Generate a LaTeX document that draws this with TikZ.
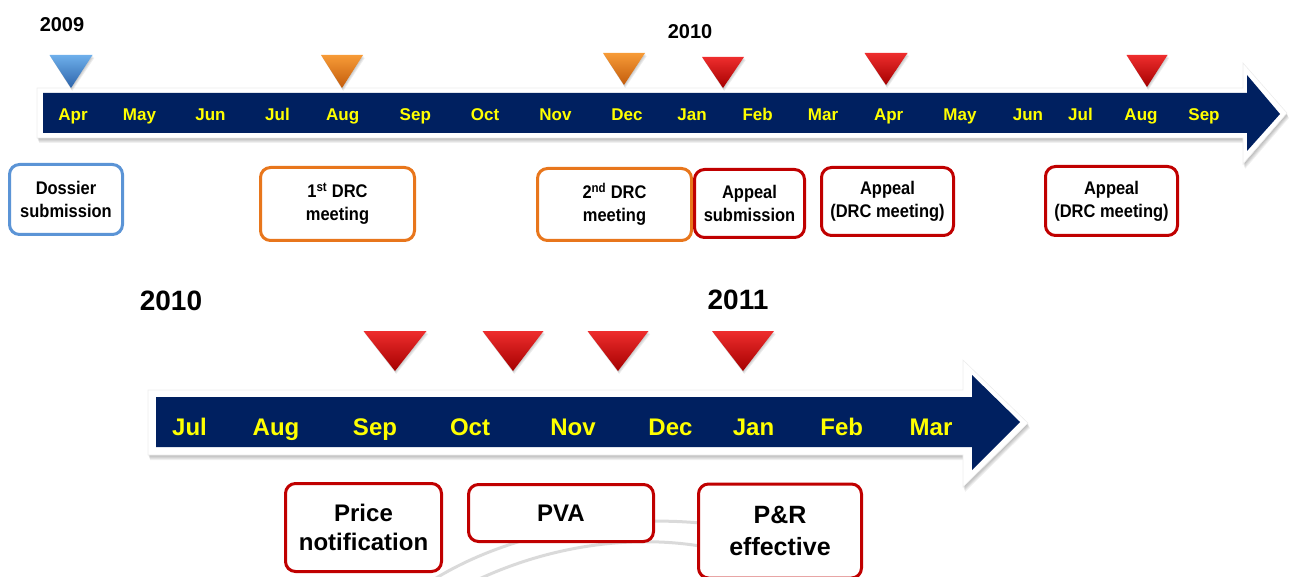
\documentclass[tikz,border=0pt]{standalone}
\usepackage{fontspec}
\setmainfont{Liberation Sans}
\newfontfamily\narrowsans[FakeStretch=0.9]{Liberation Sans}
\definecolor{navy}{RGB}{0,32,96}
\definecolor{mYellow}{RGB}{255,255,0}
\definecolor{evRed}{RGB}{192,0,0}
\definecolor{evOrange}{RGB}{232,118,28}
\definecolor{evBlue}{RGB}{91,148,214}
\definecolor{swoosh}{RGB}{218,218,218}
% triangle palettes: light / mid / dark
\definecolor{redL}{RGB}{238,45,45}\definecolor{redM}{RGB}{215,10,10}\definecolor{redD}{RGB}{165,0,0}
\definecolor{oraL}{RGB}{247,155,55}\definecolor{oraM}{RGB}{236,122,25}\definecolor{oraD}{RGB}{195,92,12}
\definecolor{bluL}{RGB}{110,175,235}\definecolor{bluM}{RGB}{75,140,210}\definecolor{bluD}{RGB}{45,100,170}
% marker: tip x, top y, tip y, half width, palette
\newcommand\marker[5]{%
  \foreach \d in {1,2,3}
    \fill[black,opacity=.07] ({#1-#4+\d*.6},{#2+\d}) -- ({#1+#4+\d*.6},{#2+\d}) -- ({#1+\d*.4},{#3+\d}) -- cycle;
  \shade[top color=#5L,middle color=#5M,bottom color=#5D]
    ({#1-#4},{#2}) -- ({#1+#4},{#2}) -- ({#1},{#3}) -- cycle;
}
% outlines of the two timeline arrows
\newcommand\toprim{(37,88) -- (1243,88) -- (1243,63) -- (1287,113) -- (1243,164) -- (1243,138) -- (37,138) -- cycle}
\newcommand\botrim{(148,390) -- (963,390) -- (963,360) -- (1028,423) -- (963,487) -- (963,455) -- (148,455) -- cycle}
\begin{document}
\begin{tikzpicture}[x=1pt,y=-1pt,
  month/.style={text=mYellow,anchor=base,font=\bfseries\fontsize{17}{20}\selectfont},
  bmonth/.style={text=mYellow,anchor=base,font=\bfseries\fontsize{24}{28}\selectfont},
  year/.style={anchor=base,font=\bfseries\fontsize{20}{24}\selectfont},
  byear/.style={anchor=base,font=\bfseries\fontsize{28}{32}\selectfont},
  evbox/.style={draw=#1,line width=3pt,rounded corners=10pt,fill=white,
    align=center,inner sep=0pt,font=\narrowsans\bfseries\fontsize{18.3}{23}\selectfont},
  bigbox/.style={evbox=#1,font=\bfseries\fontsize{24}{29}\selectfont},
  band/.style={fill=navy},
  rim/.style={fill=white,draw=black!7,line width=.6pt},
  shadow/.style={fill=black,opacity=.06}]
\useasboundingbox (0,0) rectangle (1290,577);

% decorative swooshes behind the lower boxes
\draw[swoosh,line width=3pt] (433,580) .. controls (500,538) and (600,514) .. (700,523);
\draw[swoosh,line width=3pt] (477,580) .. controls (545,548) and (625,534) .. (700,546);

% upper timeline arrow
\foreach \d in {1,...,5} \fill[shadow,shift={(0.4*\d,\d)}] \toprim;
\path[rim] \toprim;
\fill[band] (43,93) -- (1247,93) -- (1247,75) -- (1280,114) -- (1247,151) -- (1247,133) -- (43,133) -- cycle;

% lower timeline arrow
\foreach \d in {1,...,5} \fill[shadow,shift={(0.4*\d,\d)}] \botrim;
\path[rim] \botrim;
\fill[band] (156,397) -- (972,397) -- (972,375) -- (1020,422) -- (972,470) -- (972,447) -- (156,447) -- cycle;

% years
\node[year] (y2009) at (62,32) {2009};
\node[year] (y2010a) at (690,39) {2010};
\node[byear] (y2010b) at (171,310) {2010};
\node[byear] (y2011) at (738,309) {2011};

% upper months
\node[month] (m1)  at (73,121)  {Apr};
\node[month] (m2)  at (139.5,121) {May};
\node[month] (m3)  at (210.5,121) {Jun};
\node[month] (m4)  at (277.5,121) {Jul};
\node[month] (m5)  at (342.7,121) {Aug};
\node[month] (m6)  at (415.3,121) {Sep};
\node[month] (m7)  at (485,121) {Oct};
\node[month] (m8)  at (555.5,121) {Nov};
\node[month] (m9)  at (627,121) {Dec};
\node[month] (m10) at (692,121) {Jan};
\node[month] (m11) at (757.7,121) {Feb};
\node[month] (m12) at (823,121) {Mar};
\node[month] (m13) at (888.7,121) {Apr};
\node[month] (m14) at (960,121) {May};
\node[month] (m15) at (1028,121) {Jun};
\node[month] (m16) at (1080.5,121) {Jul};
\node[month] (m17) at (1141,121) {Aug};
\node[month] (m18) at (1204,121) {Sep};

% lower months
\node[bmonth] (n1) at (189.5,435) {Jul};
\node[bmonth] (n2) at (276,435) {Aug};
\node[bmonth] (n3) at (375,435) {Sep};
\node[bmonth] (n4) at (470,435) {Oct};
\node[bmonth] (n5) at (573,435) {Nov};
\node[bmonth] (n6) at (670.5,435) {Dec};
\node[bmonth] (n7) at (753.5,435) {Jan};
\node[bmonth] (n8) at (841.7,435) {Feb};
\node[bmonth] (n9) at (931,435) {Mar};

% milestone markers, upper row
\marker{71}{55}{88}{21.5}{blu}
\marker{342}{55}{88}{21}{ora}
\marker{624}{53}{85}{21}{ora}
\marker{723}{57}{88}{21}{red}
\marker{886}{53}{85}{21.5}{red}
\marker{1147}{55}{87}{20.5}{red}

% milestone markers, lower row
\marker{395}{331}{371}{31.5}{red}
\marker{513}{331}{371}{30.5}{red}
\marker{618}{331}{371}{30.5}{red}
\marker{743}{331}{371}{31}{red}

% upper events
\node[evbox=evBlue,minimum width=113pt,minimum height=70pt] (dossier) at (66,199.5) {Dossier\\submission};
\node[evbox=evOrange,minimum width=154pt,minimum height=73pt] (drc1) at (337.5,204) {1\textsuperscript{st} DRC\\meeting};
\node[evbox=evOrange,minimum width=154pt,minimum height=72pt] (drc2) at (614.5,204.5) {2\textsuperscript{nd} DRC\\meeting};
\node[evbox=evRed,minimum width=110pt,minimum height=68pt] (appsub) at (749.5,203.5) {Appeal\\submission};
\node[evbox=evRed,minimum width=132pt,minimum height=68pt] (app1) at (887.5,201.5) {Appeal\\(DRC meeting)};
\node[evbox=evRed,minimum width=132pt,minimum height=69pt] (app2) at (1111.5,201) {Appeal\\(DRC meeting)};

% lower events
\node[bigbox=evRed,minimum width=156pt,minimum height=88pt] (price) at (363.5,527.5) {Price\\notification};
\node[bigbox=evRed,minimum width=185pt,minimum height=57pt] (pva) at (561,513) {PVA};
\node[bigbox=evRed,minimum width=163pt,minimum height=94pt,font=\bfseries\fontsize{25}{32}\selectfont] (pr) at (780,531) {P\&R\\effective};
\end{tikzpicture}
\end{document}
